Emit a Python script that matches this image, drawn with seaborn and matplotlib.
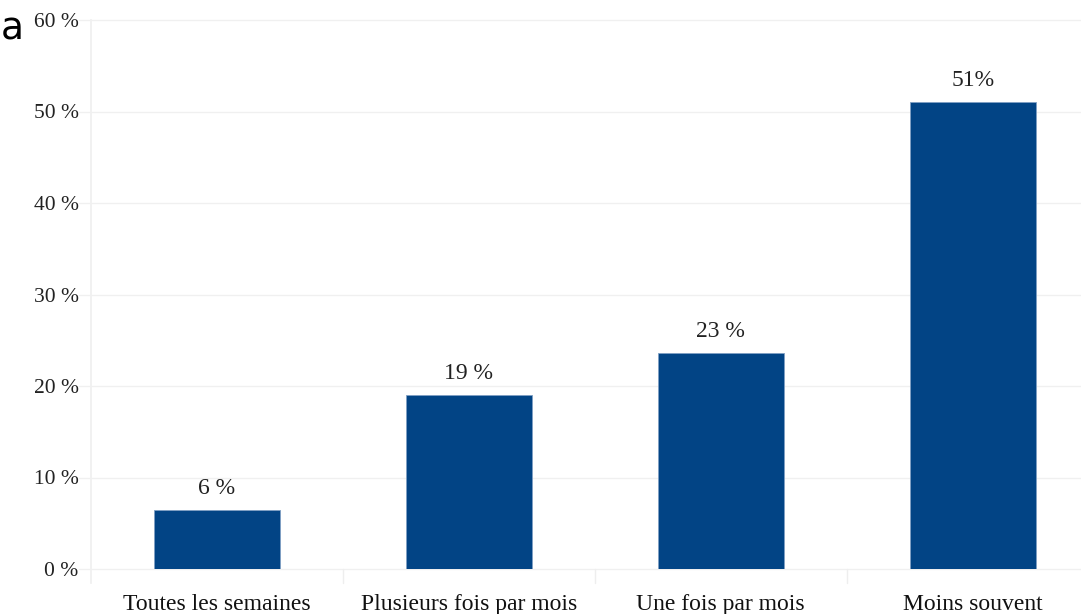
import matplotlib
matplotlib.use("Agg")
import matplotlib.pyplot as plt
import seaborn as sns
import pandas as pd

categories = ["Toutes les semaines", "Plusieurs fois par mois", "Une fois par mois", "Moins souvent"]
values = [6.4, 19.0, 23.6, 51.0]
value_labels = ["6 %", "19 %", "23 %", "51%"]
yticks = [0, 10, 20, 30, 40, 50, 60]
ytick_labels = ["0 %", "10 %", "20 %", "30 %", "40 %", "50 %", "60 %"]

sns.set_theme(style="white")
plt.rcParams['font.family'] = ['Liberation Serif', 'DejaVu Serif']

df = pd.DataFrame({"cat": categories, "val": values})
fig = plt.figure(figsize=(10.81, 6.14), dpi=100)
ax = fig.add_axes([91/1081, 45/614, (1081-91)/1081, (569-20)/614])
sns.barplot(data=df, x="cat", y="val", color="#024485", width=0.5, ax=ax,
            saturation=1, edgecolor="#7f9fc4", linewidth=0.6)
ax.set_xlim(-0.5, 3.43)
ax.set_ylim(0, 60)
ax.set_yticks(yticks)
ax.set_yticklabels(ytick_labels, fontsize=15.5, color="#222222")
ax.set_xlabel("")
ax.set_ylabel("")
ax.set_xticks(range(len(categories)))
ax.set_xticklabels(categories, fontsize=17, color="#111111")
ax.tick_params(axis="x", length=0, pad=18)
ax.tick_params(axis="y", length=0, pad=9)
for y in yticks:
    ax.axhline(y, color="#f0f0f0", lw=1, zorder=0, xmin=-0.012, clip_on=False)
# category separators below axis
for b in [0.5, 1.5, 2.5]:
    ax.plot([b, b], [0, -1.5], color="#eeeeee", lw=1, clip_on=False)
for s in ["top", "right", "bottom"]:
    ax.spines[s].set_visible(False)
ax.spines["left"].set_color("#f0f0f0")
ax.spines["left"].set_bounds(-1.5, 60)
for i, (v, lab) in enumerate(zip(values, value_labels)):
    ax.text(i, v + 1.2, lab, ha="center", va="bottom", fontsize=17, color="#222222")
fig.text(0.001, 1 - 29/614, "a", fontsize=27, family="DejaVu Sans", color="black", va="center", ha="left")
fig.savefig("out.png", dpi=100)
